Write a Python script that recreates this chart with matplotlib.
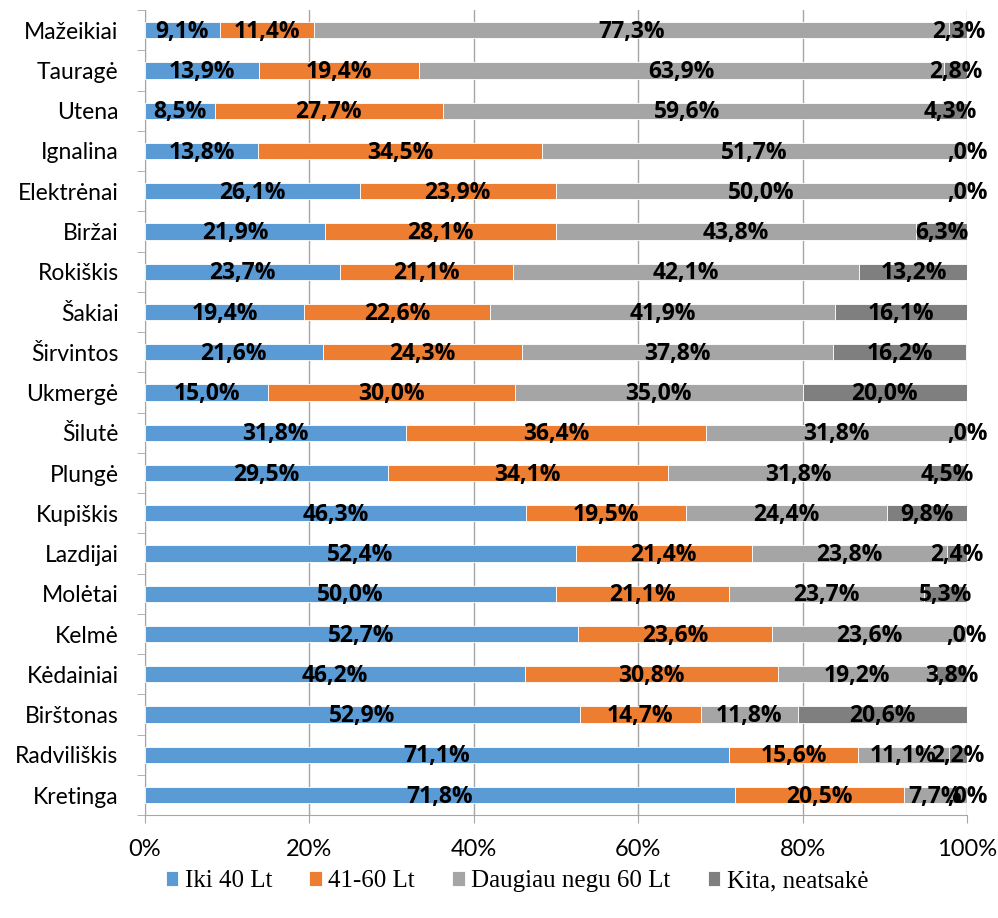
import numpy as np
import matplotlib
matplotlib.use("Agg")
import matplotlib.pyplot as plt
from matplotlib.ticker import FixedLocator

# categories top -> bottom
towns = ["Mažeikiai", "Tauragė", "Utena", "Ignalina", "Elektrėnai", "Biržai",
         "Rokiškis", "Šakiai", "Širvintos", "Ukmergė", "Šilutė", "Plungė",
         "Kupiškis", "Lazdijai", "Molėtai", "Kelmė", "Kėdainiai", "Birštonas",
         "Radviliškis", "Kretinga"]
iki40 = [9.1, 13.9, 8.5, 13.8, 26.1, 21.9, 23.7, 19.4, 21.6, 15.0, 31.8, 29.5,
         46.3, 52.4, 50.0, 52.7, 46.2, 52.9, 71.1, 71.8]
lt41_60 = [11.4, 19.4, 27.7, 34.5, 23.9, 28.1, 21.1, 22.6, 24.3, 30.0, 36.4, 34.1,
           19.5, 21.4, 21.1, 23.6, 30.8, 14.7, 15.6, 20.5]
virs60 = [77.3, 63.9, 59.6, 51.7, 50.0, 43.8, 42.1, 41.9, 37.8, 35.0, 31.8, 31.8,
          24.4, 23.8, 23.7, 23.6, 19.2, 11.8, 11.1, 7.7]
kita = [2.3, 2.8, 4.3, 0.0, 0.0, 6.3, 13.2, 16.1, 16.2, 20.0, 0.0, 4.5,
        9.8, 2.4, 5.3, 0.0, 3.8, 20.6, 2.2, 0.0]
series_names = ["Iki 40 Lt", "41-60 Lt", "Daugiau negu 60 Lt", "Kita, neatsakė"]
colors = ["#5B9BD5", "#ED7D31", "#A5A5A5", "#7F7F7F"]
xticks = [0, 20, 40, 60, 80, 100]

def lab(v):
    s = f"{v:.1f}".replace(".", ",")
    if s.startswith("0"):
        s = s[1:]
    return s + "%"

fig = plt.figure(figsize=(9.98, 9.18), dpi=100)
ax = fig.add_axes([0.1453, 0.112, 0.8237, 0.877])

y = np.arange(len(towns))
left = np.zeros(len(towns))
handles = []
for vals, name, c in zip([iki40, lt41_60, virs60, kita], series_names, colors):
    vals = np.array(vals)
    b = ax.barh(y, vals, left=left, height=0.4, color=c, edgecolor="white",
                linewidth=0.6, label=name, zorder=3)
    handles.append(b)
    for yi, l, v in zip(y, left, vals):
        ax.text(l + v / 2, yi + 0.04, lab(v), ha="center", va="center",
                fontsize=16.5, fontweight="bold", family="Open Sans",
                color="black", zorder=4)
    left = left + vals

ax.set_xlim(0, 100)
ax.set_ylim(len(towns) - 0.5, -0.5)
ax.set_xticks(xticks)
ax.set_xticklabels([f"{t}%" for t in xticks])
ax.grid(axis="x", color="#A6A6A6", linewidth=1, zorder=0)
ax.set_yticks(y)
ax.set_yticklabels(towns)
ax.yaxis.set_minor_locator(FixedLocator(np.arange(-0.5, len(towns), 1)))
ax.tick_params(axis="y", which="major", length=0, pad=19, labelsize=16.5)
ax.tick_params(axis="y", which="minor", length=6, color="#A6A6A6")
ax.tick_params(axis="x", length=6, color="#A6A6A6", pad=11, labelsize=17)
for t in ax.get_yticklabels():
    t.set_family("Lato")
for t in ax.get_xticklabels():
    t.set_family(["Liberation Sans Narrow", "Lato"])
for s in ["top", "right"]:
    ax.spines[s].set_visible(False)
for s in ["left", "bottom"]:
    ax.spines[s].set_color("#A6A6A6")

fig.legend(handles=handles, labels=series_names, loc="center",
           bbox_to_anchor=(0.518, 0.04), ncol=4, frameon=False,
           prop={"family": "Liberation Serif", "size": 18},
           handlelength=0.5, handleheight=0.5, handletextpad=0.25,
           columnspacing=1.5)

fig.savefig("out.png", dpi=100)
